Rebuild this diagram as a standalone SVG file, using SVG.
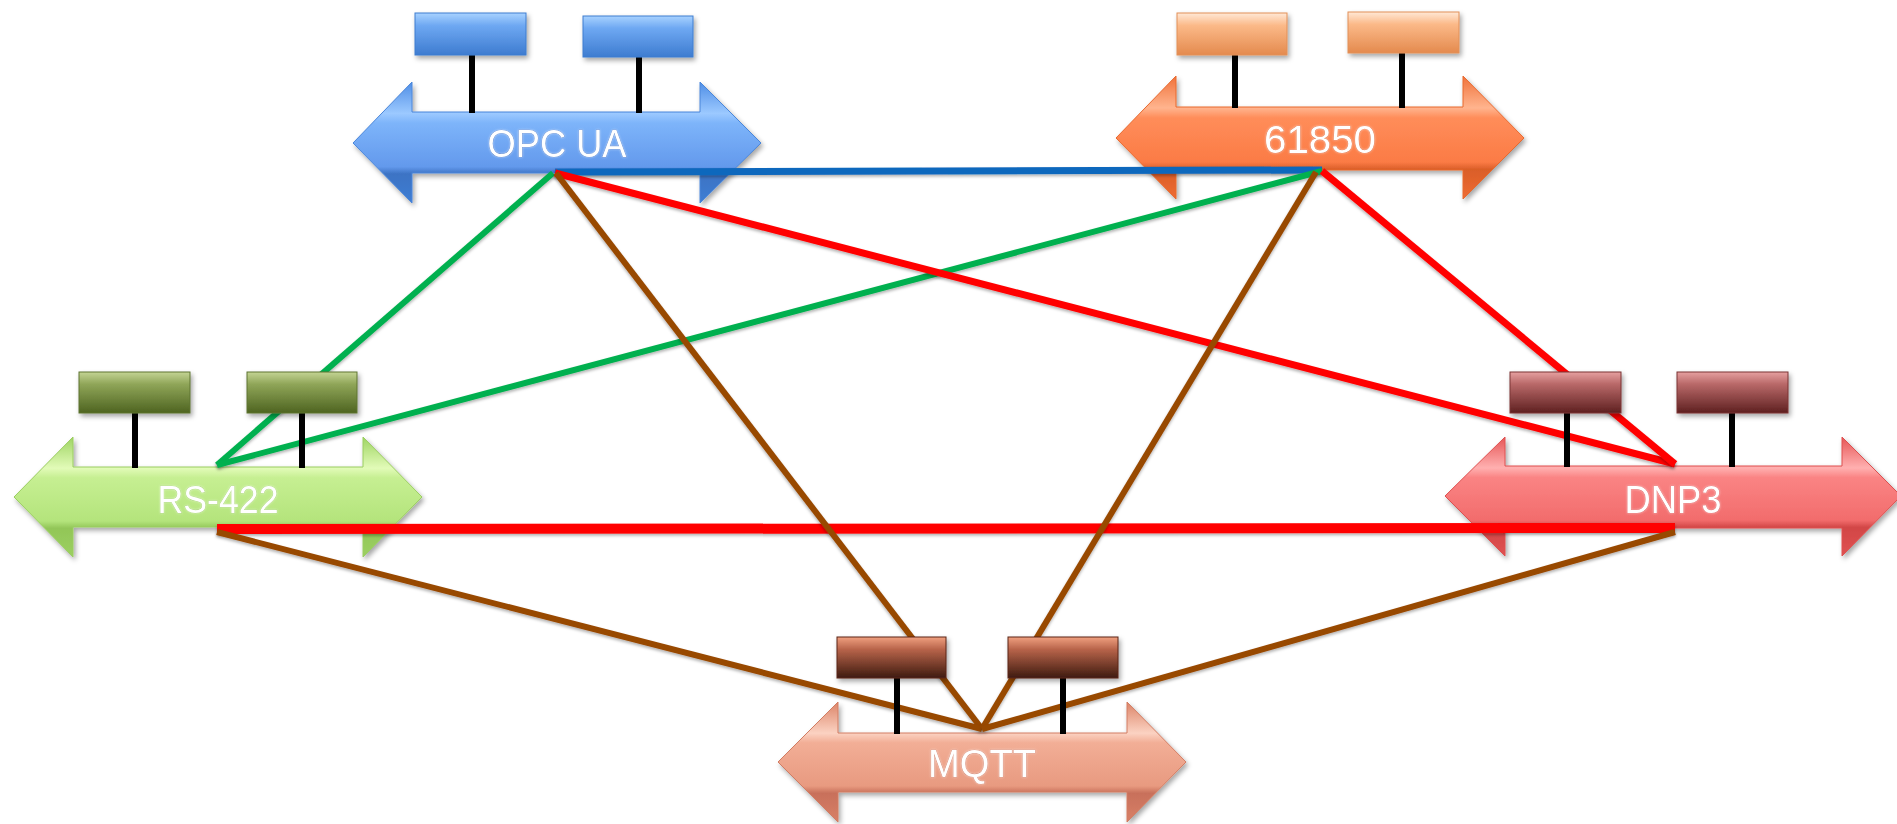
<svg xmlns="http://www.w3.org/2000/svg" width="1897" height="824" viewBox="0 0 1897 824">
  <defs>
    <filter id="shadow" x="-10%" y="-20%" width="120%" height="150%">
      <feDropShadow dx="2" dy="3" stdDeviation="2.5" flood-color="#000" flood-opacity="0.35"/>
    </filter>
    <!-- user-space region so that horizontal lines (zero-height bbox) still render -->
    <filter id="lineShadow" filterUnits="userSpaceOnUse" x="0" y="0" width="1897" height="824">
      <feDropShadow dx="0" dy="2" stdDeviation="1.5" flood-color="#000" flood-opacity="0.3"/>
    </filter>
    <filter id="glow" x="-10%" y="-20%" width="120%" height="140%">
      <feGaussianBlur in="SourceAlpha" stdDeviation="1.2" result="b"/>
      <feFlood flood-color="#FFFFFF" flood-opacity="0.5"/>
      <feComposite in2="b" operator="in" result="g"/>
      <feMerge><feMergeNode in="g"/><feMergeNode in="SourceGraphic"/></feMerge>
    </filter>

    <!-- bus fills: light band on the upper edge, darker lower edge -->
    <linearGradient id="busBlue" x1="0" y1="0" x2="0" y2="1">
      <stop offset="0" stop-color="#4F8EE6"/>
      <stop offset="0.26" stop-color="#9CC9FF"/>
      <stop offset="0.34" stop-color="#7DB4FA"/>
      <stop offset="0.7" stop-color="#6399EC"/>
      <stop offset="0.76" stop-color="#3C73C4"/>
      <stop offset="1" stop-color="#3F7ED4"/>
    </linearGradient>
    <linearGradient id="busOrange" x1="0" y1="0" x2="0" y2="1">
      <stop offset="0" stop-color="#F0723A"/>
      <stop offset="0.26" stop-color="#FFB48E"/>
      <stop offset="0.34" stop-color="#FF8D5A"/>
      <stop offset="0.7" stop-color="#FB7B45"/>
      <stop offset="0.76" stop-color="#DA5E28"/>
      <stop offset="1" stop-color="#EE6B32"/>
    </linearGradient>
    <linearGradient id="busGreen" x1="0" y1="0" x2="0" y2="1">
      <stop offset="0" stop-color="#9ED462"/>
      <stop offset="0.26" stop-color="#E2FBB8"/>
      <stop offset="0.34" stop-color="#C6EF92"/>
      <stop offset="0.7" stop-color="#B4E47C"/>
      <stop offset="0.76" stop-color="#92C658"/>
      <stop offset="1" stop-color="#9CD060"/>
    </linearGradient>
    <linearGradient id="busRed" x1="0" y1="0" x2="0" y2="1">
      <stop offset="0" stop-color="#E65656"/>
      <stop offset="0.26" stop-color="#FFB0B0"/>
      <stop offset="0.34" stop-color="#FA8484"/>
      <stop offset="0.7" stop-color="#F26C6C"/>
      <stop offset="0.76" stop-color="#D24646"/>
      <stop offset="1" stop-color="#E05252"/>
    </linearGradient>
    <linearGradient id="busSalmon" x1="0" y1="0" x2="0" y2="1">
      <stop offset="0" stop-color="#DC8468"/>
      <stop offset="0.26" stop-color="#FBD2C2"/>
      <stop offset="0.34" stop-color="#F2AE96"/>
      <stop offset="0.7" stop-color="#E89A80"/>
      <stop offset="0.76" stop-color="#C8705A"/>
      <stop offset="1" stop-color="#D88068"/>
    </linearGradient>

    <!-- device fills -->
    <linearGradient id="devBlue" x1="0" y1="0" x2="0" y2="1">
      <stop offset="0" stop-color="#A8D2FF"/>
      <stop offset="0.3" stop-color="#6EA8F2"/>
      <stop offset="1" stop-color="#3E7CD0"/>
    </linearGradient>
    <linearGradient id="devOrange" x1="0" y1="0" x2="0" y2="1">
      <stop offset="0" stop-color="#FFE8D6"/>
      <stop offset="0.3" stop-color="#FBB988"/>
      <stop offset="1" stop-color="#E48A4E"/>
    </linearGradient>
    <linearGradient id="devOlive" x1="0" y1="0" x2="0" y2="1">
      <stop offset="0" stop-color="#C4D494"/>
      <stop offset="0.3" stop-color="#8FA558"/>
      <stop offset="1" stop-color="#4E6420"/>
    </linearGradient>
    <linearGradient id="devMaroon" x1="0" y1="0" x2="0" y2="1">
      <stop offset="0" stop-color="#E6A0A0"/>
      <stop offset="0.3" stop-color="#B86868"/>
      <stop offset="1" stop-color="#5E2020"/>
    </linearGradient>
    <linearGradient id="devBrown" x1="0" y1="0" x2="0" y2="1">
      <stop offset="0" stop-color="#F0A080"/>
      <stop offset="0.3" stop-color="#B8644A"/>
      <stop offset="1" stop-color="#3E1A10"/>
    </linearGradient>

    <style>
      .bus { filter: url(#shadow); stroke-width: 1; }
      .label { font-family: "Liberation Sans", Arial, sans-serif; font-size: 39px; fill: #FFFFFF;
               text-anchor: middle; stroke-width: 0.6; paint-order: stroke; filter: url(#glow); }
      .dev { filter: url(#shadow); stroke-width: 1; }
      .stem { stroke: #000000; stroke-width: 6; }
      .link { fill: none; stroke-linecap: butt; filter: url(#lineShadow); }
      .blue { stroke: #0F67BD; stroke-width: 7; }
      .green { stroke: #00B04F; stroke-width: 6; }
      .red { stroke: #FF0000; stroke-width: 7; }
      .redThick { stroke: #FF0000; stroke-width: 10; }
      .brown { stroke: #984806; stroke-width: 6; }
    </style>
  </defs>

  <rect width="1897" height="824" fill="#FFFFFF"/>

  <!-- protocol buses (double-headed arrows) -->
  <g id="bus-opcua">
    <path class="bus" fill="url(#busBlue)" stroke="#4A86DA"
          d="M353,143 L412,82 L412,112 L700,112 L700,82 L761,143 L700,203 L700,173 L412,173 L412,203 Z"/>
    <text class="label" x="557" y="157" stroke="#3A6FC0" textLength="139" lengthAdjust="spacingAndGlyphs">OPC UA</text>
  </g>
  <g id="bus-61850">
    <path class="bus" fill="url(#busOrange)" stroke="#E8692E"
          d="M1116,138 L1176,76 L1176,107 L1463,107 L1463,76 L1524,138 L1463,199 L1463,170 L1176,170 L1176,199 Z"/>
    <text class="label" x="1320" y="153" stroke="#D8602A" textLength="112" lengthAdjust="spacingAndGlyphs">61850</text>
  </g>
  <g id="bus-rs422">
    <path class="bus" fill="url(#busGreen)" stroke="#9ACD60"
          d="M14,497 L73,437 L73,467 L363,467 L363,437 L422,497 L363,557 L363,527 L73,527 L73,557 Z"/>
    <text class="label" x="218" y="513" stroke="#9CCB62" textLength="121" lengthAdjust="spacingAndGlyphs">RS-422</text>
  </g>
  <g id="bus-dnp3">
    <path class="bus" fill="url(#busRed)" stroke="#DE5050"
          d="M1445,496 L1505,437 L1505,466 L1842,466 L1842,437 L1901,496 L1842,556 L1842,528 L1505,528 L1505,556 Z"/>
    <text class="label" x="1673" y="513" stroke="#D84C4C" textLength="97" lengthAdjust="spacingAndGlyphs">DNP3</text>
  </g>
  <g id="bus-mqtt">
    <path class="bus" fill="url(#busSalmon)" stroke="#D27C62"
          d="M778,762 L838,702 L838,733 L1127,733 L1127,702 L1186,762 L1127,822 L1127,792 L838,792 L838,822 Z"/>
    <text class="label" x="982" y="777" stroke="#C8725A" textLength="108" lengthAdjust="spacingAndGlyphs">MQTT</text>
  </g>

  <!-- links between the buses -->
  <g id="connectors">
    <line class="link blue" x1="555" y1="172" x2="1322" y2="170"/>
    <line class="link green" x1="553" y1="173" x2="217" y2="465"/>
    <line class="link green" x1="1322" y1="171" x2="217" y2="465"/>
    <line class="link red" x1="555" y1="173" x2="1675" y2="464"/>
    <line class="link red" x1="1322" y1="171" x2="1675" y2="464"/>
    <line class="link redThick" x1="217" y1="529" x2="1675" y2="528"/>
    <line class="link brown" x1="556" y1="173" x2="982" y2="729"/>
    <line class="link brown" x1="1316" y1="172" x2="982" y2="729"/>
    <line class="link brown" x1="217" y1="532" x2="982" y2="729"/>
    <line class="link brown" x1="1675" y1="532" x2="982" y2="729"/>
  </g>

  <!-- attached devices -->
  <g id="dev-opcua-1">
    <line class="stem" x1="472" y1="54" x2="472" y2="113"/>
    <rect class="dev" x="415" y="13" width="111" height="42" fill="url(#devBlue)" stroke="#3F7DD0"/>
  </g>
  <g id="dev-opcua-2">
    <line class="stem" x1="639" y1="56" x2="639" y2="113"/>
    <rect class="dev" x="583" y="16" width="110" height="41" fill="url(#devBlue)" stroke="#3F7DD0"/>
  </g>
  <g id="dev-61850-1">
    <line class="stem" x1="1235" y1="54" x2="1235" y2="108"/>
    <rect class="dev" x="1177" y="13" width="110" height="42" fill="url(#devOrange)" stroke="#E29058"/>
  </g>
  <g id="dev-61850-2">
    <line class="stem" x1="1402" y1="52" x2="1402" y2="108"/>
    <rect class="dev" x="1348" y="12" width="111" height="41" fill="url(#devOrange)" stroke="#E29058"/>
  </g>
  <g id="dev-rs422-1">
    <line class="stem" x1="135" y1="412" x2="135" y2="468"/>
    <rect class="dev" x="79" y="372" width="111" height="41" fill="url(#devOlive)" stroke="#5E7430"/>
  </g>
  <g id="dev-rs422-2">
    <line class="stem" x1="302" y1="412" x2="302" y2="468"/>
    <rect class="dev" x="247" y="372" width="110" height="41" fill="url(#devOlive)" stroke="#5E7430"/>
  </g>
  <g id="dev-dnp3-1">
    <line class="stem" x1="1567" y1="412" x2="1567" y2="467"/>
    <rect class="dev" x="1510" y="372" width="111" height="41" fill="url(#devMaroon)" stroke="#7A3434"/>
  </g>
  <g id="dev-dnp3-2">
    <line class="stem" x1="1732" y1="412" x2="1732" y2="467"/>
    <rect class="dev" x="1677" y="372" width="111" height="41" fill="url(#devMaroon)" stroke="#7A3434"/>
  </g>
  <g id="dev-mqtt-1">
    <line class="stem" x1="897" y1="677" x2="897" y2="734"/>
    <rect class="dev" x="837" y="637" width="109" height="41" fill="url(#devBrown)" stroke="#5A2616"/>
  </g>
  <g id="dev-mqtt-2">
    <line class="stem" x1="1063" y1="677" x2="1063" y2="734"/>
    <rect class="dev" x="1008" y="637" width="110" height="41" fill="url(#devBrown)" stroke="#5A2616"/>
  </g>
</svg>
